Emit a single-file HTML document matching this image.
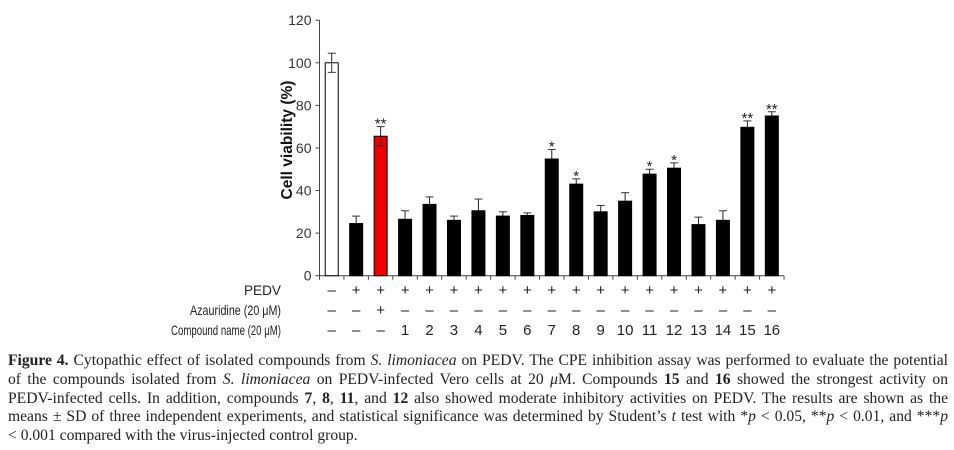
<!DOCTYPE html>
<html><head><meta charset="utf-8"><style>
html,body{margin:0;padding:0;background:#fff;width:954px;height:450px;overflow:hidden}
svg{position:absolute;left:0;top:0}
.cap{position:absolute;left:8px;top:352px;width:940px;font-family:"Liberation Serif",serif;font-size:15.6px;line-height:18.8px;color:#222}
.cap div{text-align:justify;text-align-last:justify;white-space:nowrap}
.cap div.last{text-align-last:left}
</style></head><body>
<svg id="chart" width="954" height="350" font-family="Liberation Sans, sans-serif"></svg>
<div class="cap">
<div><b>Figure 4.</b> Cytopathic effect of isolated compounds from <i>S. limoniacea</i> on PEDV. The CPE inhibition assay was performed to evaluate the potential</div>
<div>of the compounds isolated from <i>S. limoniacea</i> on PEDV-infected Vero cells at 20 <i>μ</i>M. Compounds <b>15</b> and <b>16</b> showed the strongest activity on</div>
<div>PEDV-infected cells. In addition, compounds <b>7</b>, <b>8</b>, <b>11</b>, and <b>12</b> also showed moderate inhibitory activities on PEDV. The results are shown as the</div>
<div>means ± SD of three independent experiments, and statistical significance was determined by Student’s <i>t</i> test with *<i>p</i> &lt; 0.05, **<i>p</i> &lt; 0.01, and ***<i>p</i></div>
<div class="last">&lt; 0.001 compared with the virus-injected control group.</div>
</div>
<script>
const values=[100,24.5,65.5,26.5,33.5,26,30.5,28,28.3,54.8,43,30,35,47.7,50.5,24,26,69.7,75];
const errors=[4.5,3.5,4.5,4,3.5,2,5.5,2,1.2,4.5,2.5,3,4,2.3,2.5,3.5,4.5,3,2];
const stars=["","","**","","","","","","","*","*","","","*","*","","","**","**"];
const pedv=["–","+","+","+","+","+","+","+","+","+","+","+","+","+","+","+","+","+","+"];
const aza=["–","–","+","–","–","–","–","–","–","–","–","–","–","–","–","–","–","–","–"];
const compound=["–","–","–","1","2","3","4","5","6","7","8","9","10","11","12","13","14","15","16"];
const yTicks=[0,20,40,60,80,100,120];
const svg=document.getElementById('chart');
const NS="http://www.w3.org/2000/svg";
const x0=319.5,slot=24.45,y0=275.7,yTop=20.2;
const y=v=>y0-(v/120)*(y0-yTop);
const xc=i=>x0+slot*(i+0.5);
function mk(t,a,txt){const e=document.createElementNS(NS,t);for(const k in a)e.setAttribute(k,a[k]);if(txt!==undefined)e.textContent=txt;svg.appendChild(e);return e;}
let e;
e=mk('line',{x1:x0,y1:yTop,x2:x0,y2:y0,stroke:'#444','stroke-width':1});


e=mk('line',{x1:x0,y1:y0,x2:x0+slot*values.length,y2:y0,stroke:'#444','stroke-width':1});


yTicks.forEach(t=>{
 mk('line',{x1:x0-4,y1:y(t),x2:x0,y2:y(t),stroke:'#444'});
 e=mk('text',{x:x0-8,y:y(t)+5,'text-anchor':'end','font-size':14,fill:'#333'},t);
 
 
});
for(let i=0;i<=values.length;i++)mk('line',{x1:x0+slot*i,y1:y0,x2:x0+slot*i,y2:y0+4,stroke:'#444'});
e=mk('text',{x:0,y:0,transform:'translate(292,140) rotate(-90)','text-anchor':'middle','font-size':15.5,'font-weight':'bold',fill:'#111'},'Cell viability (%)');


values.forEach((v,i)=>{
 const cx=xc(i),w=13;
 const fill=i===0?'#fff':(i===2?'#e00':'#000');
 const top=y(v+errors[i]);
 mk('line',{x1:cx,y1:top,x2:cx,y2:y(v),stroke:'#222'});
 mk('line',{x1:cx-4,y1:top,x2:cx+4,y2:top,stroke:'#333'});
 e=mk('rect',{x:cx-w/2,y:y(v),width:w,height:y0-y(v),fill:fill,stroke:'#000','stroke-width':1});
 
 
 if(i===0||i===2){
  mk('line',{x1:cx,y1:y(v)+0.5,x2:cx,y2:y(v-errors[i]),stroke:'#333'});
  mk('line',{x1:cx-4,y1:y(v-errors[i]),x2:cx+4,y2:y(v-errors[i]),stroke:'#333'});
 }
 if(stars[i]){
  e=mk('text',{x:cx,y:top+2,'text-anchor':'middle','font-size':15,fill:'#222'},stars[i]);
  
  
 }
});
const rows=[["PEDV",pedv,295,37],["Azauridine (20 μM)",aza,315,91],["Compound name (20 μM)",compound,335,110]];
rows.forEach(r=>{
 e=mk('text',{x:281,y:r[2],'text-anchor':'end','font-size':14,fill:'#222',textLength:r[3],lengthAdjust:'spacingAndGlyphs'},r[0]);
 
 
 r[1].forEach((s,i)=>{
  e=mk('text',{x:xc(i),y:r[2],'text-anchor':'middle','font-size':15,fill:'#222'},s);
  
  
 });
});
</script>
</body></html>
